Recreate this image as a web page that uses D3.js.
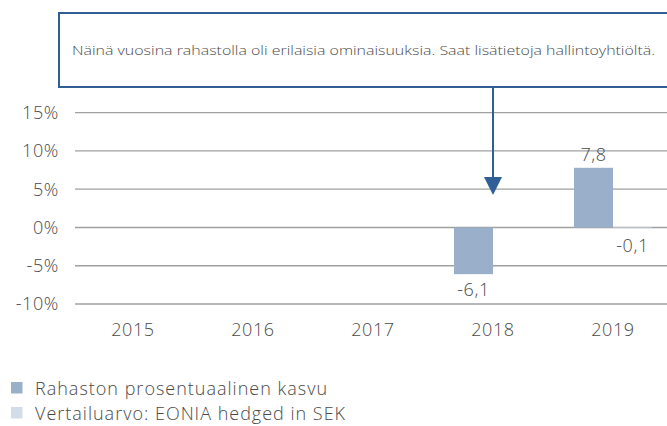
<!DOCTYPE html>
<html>
<head>
<meta charset="utf-8">
<script src="https://cdn.jsdelivr.net/npm/d3@7"></script>
<style>
  html, body { margin: 0; padding: 0; background: #fff; }
  svg { display: block; font-family: "Open Sans", Lato, sans-serif; }
</style>
</head>
<body>
<svg id="chart"></svg>
<script>
// Data
const years = ['2015', '2016', '2017', '2018', '2019'];
const fundValues = [null, null, null, -6.1, 7.8];
const benchmarkValues = [null, null, null, null, -0.1];
const yTicks = [-10, -5, 0, 5, 10, 15];
const seriesNames = ['Rahaston prosentuaalinen kasvu', 'Vertailuarvo: EONIA hedged in SEK'];
const noteText = 'Näinä vuosina rahastolla oli erilaisia ominaisuuksia. Saat lisätietoja hallintoyhtiöltä.';
const noteYear = '2018';

(function() {
    const width = 667, height = 426;
    const svg = d3.select('#chart').attr('width', width).attr('height', height);

    const fundColor = '#9ab0ca';
    const benchColor = '#d3dde9';
    const textColor = '#4a4a4a';
    const noteColor = '#2f5f96';

    const y = d3.scaleLinear().domain([-10, 15]).range([304, 112.7]);
    const x = d3.scaleBand().domain(years).range([73, 673])
        .paddingInner(0.35).paddingOuter(0.175);
    const xs = d3.scaleBand().domain(['fund', 'bench']).range([0, x.bandwidth()]);

    const labelStyle = sel => sel.attr('fill', textColor)
        .style('font-size', '18px').style('font-weight', 300)
        .style('letter-spacing', '0.6px');

    // Gridlines
    svg.append('g').selectAll('line').data(yTicks).enter().append('line')
        .attr('x1', 75).attr('x2', width)
        .attr('y1', d => y(d)).attr('y2', d => y(d))
        .attr('stroke', '#a0a0a0').attr('stroke-width', 1.3);

    // Y labels
    svg.append('g').selectAll('text').data(yTicks).enter().append('text')
        .attr('x', 59).attr('y', d => y(d)).attr('dy', '0.35em')
        .attr('text-anchor', 'end')
        .call(labelStyle)
        .text(d => d + '%');

    // X labels
    svg.append('g').selectAll('text').data(years).enter().append('text')
        .attr('x', d => x(d) + x.bandwidth() / 2).attr('y', 330).attr('dy', '0.35em')
        .attr('text-anchor', 'middle')
        .call(labelStyle)
        .text(d => d);

    const bars = [];
    years.forEach((yr, i) => {
        if (fundValues[i] != null) bars.push({ year: yr, key: 'fund', value: fundValues[i], color: fundColor });
        if (benchmarkValues[i] != null) bars.push({ year: yr, key: 'bench', value: benchmarkValues[i], color: benchColor });
    });

    svg.append('g').selectAll('rect').data(bars).enter().append('rect')
        .attr('x', d => x(d.year) + xs(d.key))
        .attr('width', xs.bandwidth())
        .attr('y', d => y(Math.max(0, d.value)))
        .attr('height', d => Math.abs(y(d.value) - y(0)))
        .attr('fill', d => d.color);

    svg.append('g').selectAll('text').data(bars).enter().append('text')
        .attr('x', d => x(d.year) + xs(d.key) + xs.bandwidth() / 2)
        .attr('y', d => d.value >= 0 ? y(d.value) - 13 : Math.max(y(d.value), y(0) + 2) + 16)
        .attr('dy', '0.35em')
        .attr('text-anchor', 'middle')
        .call(labelStyle)
        .text(d => String(d.value).replace('.', ','));

    // Note box
    svg.append('rect')
        .attr('x', 59).attr('y', 13).attr('width', 640).attr('height', 74)
        .attr('fill', '#fff').attr('stroke', noteColor).attr('stroke-width', 2);
    svg.append('text')
        .attr('x', 72).attr('y', 50).attr('dy', '0.35em')
        .attr('textLength', 583).attr('lengthAdjust', 'spacingAndGlyphs')
        .attr('fill', textColor).style('font-size', '13.5px').style('font-weight', 300)
        .text(noteText);

    // Arrow
    const ax = x(noteYear) + x.bandwidth() / 2;
    svg.append('line')
        .attr('x1', ax).attr('x2', ax).attr('y1', 88).attr('y2', 180)
        .attr('stroke', noteColor).attr('stroke-width', 2);
    svg.append('path')
        .attr('d', `M${ax - 9},177 L${ax + 9},177 L${ax},195 Z`)
        .attr('fill', noteColor);

    // Legend
    const legend = svg.append('g').selectAll('g').data(seriesNames).enter().append('g')
        .attr('transform', (d, i) => `translate(11,${382 + i * 25})`);
    legend.append('rect').attr('width', 11.5).attr('height', 11.5)
        .attr('fill', (d, i) => i === 0 ? fundColor : benchColor);
    legend.append('text').attr('x', 24).attr('y', 13)
        .call(labelStyle)
        .style('letter-spacing', '1px')
        .text(d => d);
})();
</script>
</body>
</html>
